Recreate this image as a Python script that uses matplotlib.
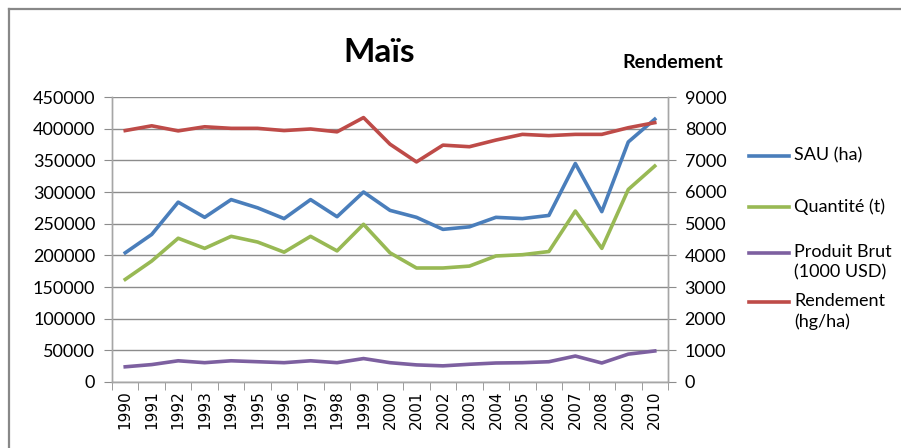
import matplotlib.pyplot as plt
from matplotlib.lines import Line2D

years = [str(y) for y in range(1990, 2011)]

sau = [204000, 233000, 284000, 260000, 288000, 275000, 258000, 288000, 261000, 300000,
       271000, 260000, 241000, 245000, 260000, 258000, 263000, 345000, 269000, 379000, 415000]
quantite = [162000, 191000, 227000, 211000, 230000, 221000, 205000, 230000, 207000, 249000,
            204000, 180000, 180000, 183000, 199000, 201000, 206000, 270000, 211000, 304000, 341000]
produit_brut = [480, 550, 670, 610, 670, 640, 610, 670, 610, 740,
                610, 540, 510, 560, 600, 610, 640, 820, 600, 880, 980]
rendement = [7940, 8090, 7930, 8060, 8010, 8010, 7940, 7990, 7900, 8350,
             7510, 6950, 7480, 7430, 7640, 7820, 7780, 7820, 7820, 8030, 8190]

c_sau = '#4A7EBB'
c_qte = '#98B954'
c_pb = '#7D60A0'
c_rend = '#BE4B48'
grid_c = '#8c8c8c'

plt.rcParams['font.family'] = ['Lato', 'DejaVu Sans']

fig = plt.figure(figsize=(9.01, 4.48), dpi=100)
ax = fig.add_axes([112/901, 1-382/448, (668-112)/901, (382-97)/448])
ax2 = ax.twinx()

x = list(range(len(years)))
lw = 2.6
ax.plot(x, sau, color=c_sau, lw=lw, zorder=3)
ax.plot(x, quantite, color=c_qte, lw=lw, zorder=3)
ax2.plot(x, produit_brut, color=c_pb, lw=lw)
ax2.plot(x, rendement, color=c_rend, lw=lw)

ax.set_xlim(-0.5, len(years) - 0.5)
ax.set_ylim(0, 450000)
ax2.set_ylim(0, 9000)
ax.set_yticks(range(0, 450001, 50000))
ax2.set_yticks(range(0, 9001, 1000))
ax.yaxis.grid(True, color=grid_c, lw=1)
ax.set_axisbelow(True)

ax.set_xticks(x)
ax.set_xticklabels(years, rotation=90, family='DejaVu Sans', fontsize=11)
ax.set_xticks([i - 0.5 for i in range(len(years) + 1)], minor=True)
ax.tick_params(axis='x', which='major', length=0, pad=6)
ax.tick_params(axis='x', which='minor', length=6, color=grid_c)
ax.tick_params(axis='y', length=6, color=grid_c, labelsize=13, pad=6)
ax2.tick_params(axis='y', length=6, color=grid_c, labelsize=13, pad=6)

for a in (ax, ax2):
    a.spines['top'].set_visible(False)
    for s in ('left', 'right', 'bottom'):
        a.spines[s].set_color('#a6a6a6')
        a.spines[s].set_linewidth(1)

fig.text(379/901, 1-52/448, 'Maïs', fontsize=24, fontweight='bold', ha='center', va='center')
fig.text(673/901, 1-63/448, 'Rendement', fontsize=14, fontweight='bold', ha='center', va='center')

# legend
legend_items = [
    (c_sau, 'SAU (ha)', 156),
    (c_qte, 'Quantité (t)', 207),
    (c_pb, 'Produit Brut\n(1000 USD)', 253),
    (c_rend, 'Rendement\n(hg/ha)', 302),
]
for col, lab, ypx in legend_items:
    yf = 1 - ypx/448
    fig.add_artist(Line2D([749/901, 789/901], [yf, yf], color=col, lw=lw))
    fig.text(794/901, yf + 9/448, lab, fontsize=13, ha='left', va='top', linespacing=1.3)

# chart frame
fig.add_artist(Line2D([9/901, 9/901], [0, 1-9/448], color='#888888', lw=1.6))
fig.add_artist(Line2D([9/901, 1], [1-9/448, 1-9/448], color='#888888', lw=1.6))

fig.savefig('out.png', dpi=100)
